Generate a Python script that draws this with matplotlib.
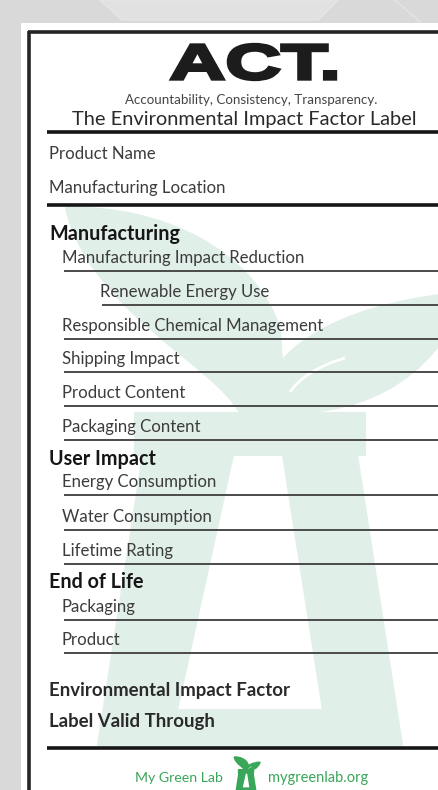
import matplotlib
matplotlib.use("Agg")
from matplotlib import pyplot as plt
from matplotlib.path import Path
from matplotlib.patches import PathPatch, Polygon, Rectangle
from matplotlib.textpath import TextPath
from matplotlib.font_manager import FontProperties
from matplotlib.transforms import Affine2D

# ---- label content ----
title = "ACT."
tagline = "Accountability, Consistency, Transparency."
subtitle = "The Environmental Impact Factor Label"

top_fields = ["Product Name", "Manufacturing Location"]

sections = ["Manufacturing", "User Impact", "End of Life"]
section_items = [
    ["Manufacturing Impact Reduction", "Renewable Energy Use",
     "Responsible Chemical Management", "Shipping Impact",
     "Product Content", "Packaging Content"],
    ["Energy Consumption", "Water Consumption", "Lifetime Rating"],
    ["Packaging", "Product"],
]
nested_items = ["Renewable Energy Use"]

bottom_fields = ["Environmental Impact Factor", "Label Valid Through"]
footer_left = "My Green Lab"
footer_right = "mygreenlab.org"

# ---- layout (pixel coordinates, y down) ----
top_baselines = [159, 193]
section_baselines = [240, 465, 588]
item_baselines = [[263, 297, 331, 364, 398, 432], [487, 522, 556], [612, 645]]
bottom_baselines = [696, 727]

FONT = "Lato"
TXT = "#3c3c3c"
DARK = "#161616"
MINT = "#e0efe8"
GREEN = "#3aa65a"

fig = plt.figure(figsize=(4.39, 7.90), dpi=100)
fig.patch.set_facecolor("#d9d9d9")
ax = fig.add_axes([0, 0, 1, 1])
ax.set_xlim(0, 439)
ax.set_ylim(790, 0)
ax.axis("off")

# background hex pattern (faint)
ax.add_patch(Polygon([(100, 0), (122, 20), (318, 20), (338, 0)], closed=True,
                     facecolor="#e1e1e1", edgecolor="#e6e6e6", lw=1, zorder=0))
ax.plot([395, 420], [0, 22], color="#e3e3e3", lw=1.2, zorder=0)

# card
ax.add_patch(Rectangle((21, 23), 430, 780, facecolor="white", edgecolor="none", zorder=1))
ax.plot([29, 29], [31, 795], color="#252525", lw=2.6, zorder=5, solid_capstyle="butt")
ax.plot([28, 445], [32, 32], color="#252525", lw=2.6, zorder=5, solid_capstyle="butt")


def logo_patches(tr, color, hole_color, z, vein_lw):
    # left leaf + stem
    left_leaf = Path([(66, 208), (160, 205), (255, 250), (280, 330),
                      (285, 413), (240, 413), (215, 365), (90, 310), (66, 208), (66, 208)],
                     [Path.MOVETO, Path.CURVE4, Path.CURVE4, Path.CURVE4,
                      Path.LINETO, Path.LINETO, Path.CURVE4, Path.CURVE4, Path.CURVE4,
                      Path.CLOSEPOLY])
    right_leaf = Path([(262, 413), (262, 340), (360, 300), (470, 292),
                       (430, 385), (360, 418), (262, 413), (262, 413)],
                      [Path.MOVETO, Path.CURVE4, Path.CURVE4, Path.CURVE4,
                       Path.CURVE4, Path.CURVE4, Path.CURVE4, Path.CLOSEPOLY])
    flask = Path([(135, 413), (365, 413), (365, 455), (357, 455), (402, 745),
                  (98, 745), (143, 455), (135, 455), (135, 413),
                  (233, 455), (177, 710), (323, 710), (283, 455), (233, 455)],
                 [Path.MOVETO, Path.LINETO, Path.LINETO, Path.LINETO, Path.LINETO,
                  Path.LINETO, Path.LINETO, Path.LINETO, Path.CLOSEPOLY,
                  Path.MOVETO, Path.LINETO, Path.LINETO, Path.LINETO, Path.CLOSEPOLY])
    for p in (left_leaf, right_leaf, flask):
        ax.add_patch(PathPatch(p, facecolor=color, edgecolor=color, lw=1.5,
                               joinstyle="round", transform=tr, zorder=z))
    vein = Path([(290, 392), (305, 370), (345, 358)], [Path.MOVETO, Path.CURVE3, Path.CURVE3])
    ax.add_patch(PathPatch(vein, facecolor="none", edgecolor=hole_color, lw=vein_lw,
                           transform=tr, zorder=z))


# big watermark
logo_patches(ax.transData, MINT, "white", 2, 2)
# small footer logo
small = Affine2D().translate(-250, -413).scale(0.062).translate(246, 770) + ax.transData
logo_patches(small, GREEN, "white", 6, 0.3)

# ACT. title fitted into its box
tp = TextPath((0, 0), title, size=100, prop=FontProperties(family="Liberation Sans", weight="bold"))
bb = tp.get_extents()
x0, x1, y_top, y_bot = 171.5, 335.5, 44.5, 79.5
tr = (Affine2D().translate(-bb.x0, -bb.y0)
      .scale((x1 - x0) / bb.width, -(y_bot - y_top) / bb.height)
      .translate(x0, y_bot))
ax.add_patch(PathPatch(tr.transform_path(tp), facecolor="#1c1c1c", edgecolor="#1c1c1c",
                       lw=2.4, joinstyle="miter", zorder=6))

ax.text(251, 104, tagline, fontsize=9.6, family=FONT, color="#444444",
        ha="center", va="baseline", zorder=6)
ax.text(244, 125, subtitle, fontsize=14.4, family=FONT, color="#2a2a2a",
        ha="center", va="baseline", zorder=6)

thick = dict(color=DARK, lw=2.6, solid_capstyle="butt", zorder=5)
thin = dict(color="#4a4a4a", lw=1.4, solid_capstyle="butt", zorder=5)
ax.plot([47, 445], [132, 132], **thick)

for name, yb in zip(top_fields, top_baselines):
    ax.text(49, yb, name, fontsize=12.1, family=FONT, color=TXT, va="baseline", zorder=6)
ax.plot([47, 445], [205, 205], **thick)

for sec, sb, items, ibs in zip(sections, section_baselines, section_items, item_baselines):
    ax.text(49, sb, sec, fontsize=14.2, family=FONT, weight="bold", color=DARK,
            va="baseline", zorder=6)
    for it, yb in zip(items, ibs):
        x = 100 if it in nested_items else 62
        ax.text(x, yb, it, fontsize=12.1, family=FONT, color=TXT, va="baseline", zorder=6)
        ax.plot([x + 2, 445], [yb + 8, yb + 8], **thin)

for name, yb in zip(bottom_fields, bottom_baselines):
    ax.text(49, yb, name, fontsize=13.4, family=FONT, weight="bold", color="#2a2a2a",
            va="baseline", zorder=6)
ax.plot([47, 445], [748, 748], **thick)

ax.text(223, 782, footer_left, fontsize=10.2, family=FONT, color=GREEN, ha="right",
        va="baseline", zorder=6)
ax.text(268, 782, footer_right, fontsize=10.5, family=FONT, color=GREEN, ha="left",
        va="baseline", zorder=6)

plt.savefig("out.png", dpi=100, facecolor=fig.get_facecolor())
